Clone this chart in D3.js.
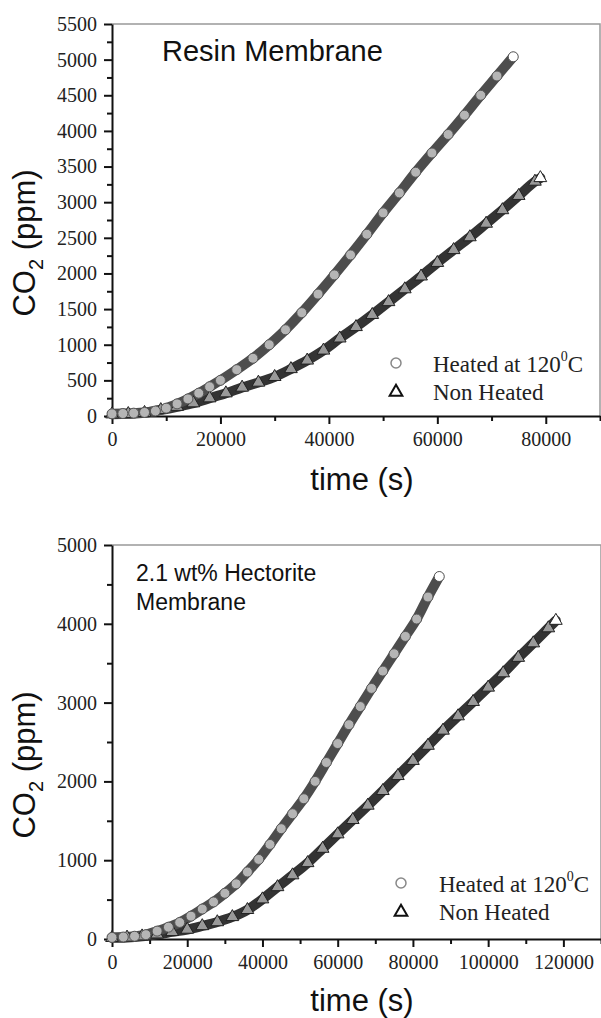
<!DOCTYPE html>
<html>
<head>
<meta charset="utf-8">
<script src="https://cdn.jsdelivr.net/npm/d3@7"></script>
<style>
  body { margin: 0; background: #fff; }
  .tick text { font-family: "Liberation Serif", "Times New Roman", serif; font-size: 20px; fill: #222; }
  .domain { stroke: #111; stroke-width: 2; }
  .tick line { stroke: #111; stroke-width: 2; }
</style>
</head>
<body>
<svg id="chart" width="601" height="1018"></svg>
<script>
// CO2 (ppm) vs time (s)
var resinHeated = [[0,30],[2000,35],[4000,40],[6000,50],[8000,70],[10000,110],[12000,170],[14000,240],
  [16000,320],[18000,410],[20000,500],[23000,650],[26000,810],[29000,1000],[32000,1210],[35000,1450],
  [38000,1710],[41000,1980],[44000,2260],[47000,2550],[50000,2850],[53000,3130],[56000,3420],
  [59000,3690],[62000,3950],[65000,4220],[68000,4500],[71000,4770],[74000,5040]];
var resinNonHeated = [[0,25],[3000,30],[6000,45],[9000,85],[12000,130],[15000,180],[18000,250],
  [21000,320],[24000,400],[27000,470],[30000,550],[33000,660],[36000,780],[39000,920],[42000,1090],
  [45000,1250],[48000,1420],[51000,1600],[54000,1780],[57000,1960],[60000,2150],[63000,2330],
  [66000,2510],[69000,2700],[72000,2890],[75000,3090],[78000,3290],[79000,3340]];
var hectHeated = [[0,20],[3000,25],[6000,35],[9000,55],[12000,100],[15000,150],[18000,210],[21000,290],
  [24000,380],[27000,470],[30000,580],[33000,700],[36000,850],[39000,1010],[42000,1200],[45000,1400],
  [48000,1590],[51000,1780],[54000,2000],[57000,2240],[60000,2480],[63000,2720],[66000,2950],
  [69000,3180],[72000,3400],[75000,3620],[78000,3840],[81000,4060],[84000,4340],[87000,4600]];
var hectNonHeated = [[0,15],[4000,20],[8000,35],[12000,60],[16000,90],[20000,120],[24000,165],
  [28000,215],[32000,280],[36000,370],[40000,505],[44000,660],[48000,810],[52000,965],[56000,1147],
  [60000,1330],[64000,1512],[68000,1694],[72000,1880],[76000,2070],[80000,2262],[84000,2454],
  [88000,2646],[92000,2828],[96000,3010],[100000,3192],[104000,3374],[108000,3570],[112000,3754],
  [116000,3945],[118000,4040]];

var resinXTicks = [0, 20000, 40000, 60000, 80000];
var resinYTicks = [0,500,1000,1500,2000,2500,3000,3500,4000,4500,5000,5500];
var hectXTicks = [0, 20000, 40000, 60000, 80000, 100000, 120000];
var hectYTicks = [0, 1000, 2000, 3000, 4000, 5000];
var titles = [["Resin Membrane"], ["2.1 wt% Hectorite", "Membrane"]];
var legendLabels = ["Heated at 120", "Non Heated"];

var svg = d3.select("#chart");

function drawPanel(p) {
  var x = d3.scaleLinear().domain(p.xDomain).range(p.xRange);
  var y = d3.scaleLinear().domain(p.yDomain).range(p.yRange);
  var g = svg.append("g");

  // thin frame on top and right
  g.append("path")
    .attr("d", "M" + p.xRange[0] + "," + p.yRange[1] + "H" + p.xRange[1] + "V" + p.yRange[0])
    .attr("fill", "none").attr("stroke", "#999").attr("stroke-width", 1.5);

  // minor ticks
  var xMinor = d3.range(p.xDomain[0], p.xDomain[1] + 1, p.xMinor).filter(function(v) { return p.xTicks.indexOf(v) < 0; });
  var yMinor = d3.range(p.yDomain[0], p.yDomain[1] + 1, p.yMinor).filter(function(v) { return p.yTicks.indexOf(v) < 0; });
  g.append("g").attr("transform", "translate(0," + p.yRange[0] + ")")
    .call(d3.axisBottom(x).tickValues(xMinor).tickSize(5).tickFormat(""))
    .select(".domain").remove();
  g.append("g").attr("transform", "translate(" + p.xRange[0] + ",0)")
    .call(d3.axisLeft(y).tickValues(yMinor).tickSize(5).tickFormat(""))
    .select(".domain").remove();

  // major axes
  var xAxis = g.append("g").attr("transform", "translate(0," + p.yRange[0] + ")")
    .call(d3.axisBottom(x).tickValues(p.xTicks).tickSize(8).tickSizeOuter(0).tickPadding(8).tickFormat(d3.format("d")));
  var yAxis = g.append("g").attr("transform", "translate(" + p.xRange[0] + ",0)")
    .call(d3.axisLeft(y).tickValues(p.yTicks).tickSize(8).tickSizeOuter(0).tickPadding(7).tickFormat(d3.format("d")));
  xAxis.selectAll("text").attr("fill", "#222");
  yAxis.selectAll("text").attr("fill", "#222");

  // series: dense band + markers
  var line = d3.line()
    .x(function(d) { return x(d[0]); })
    .y(function(d) { return y(d[1]); })
    .curve(d3.curveMonotoneX);

  [p.nonHeated, p.heated].forEach(function(series, si) {
    g.append("path")
      .attr("d", line(series))
      .attr("fill", "none")
      .attr("stroke", si === 0 ? "#333" : "#4d4d4d")
      .attr("stroke-width", 10)
      .attr("stroke-linecap", "round");
  });

  var tri = d3.symbol().type(d3.symbolTriangle).size(70);
  g.append("g").selectAll("path")
    .data(p.nonHeated)
    .enter().append("path")
    .attr("transform", function(d) { return "translate(" + x(d[0]) + "," + y(d[1]) + ")"; })
    .attr("d", tri)
    .attr("fill", function(d, i) { return i === p.nonHeated.length - 1 ? "#fff" : "#999"; })
    .attr("stroke", "#222")
    .attr("stroke-width", 1);

  g.append("g").selectAll("circle")
    .data(p.heated)
    .enter().append("circle")
    .attr("cx", function(d) { return x(d[0]); })
    .attr("cy", function(d) { return y(d[1]); })
    .attr("r", 5)
    .attr("fill", function(d, i) { return i === p.heated.length - 1 ? "#fff" : "#b5b5b5"; })
    .attr("stroke", "#555")
    .attr("stroke-width", 1);

  // panel title
  var t = g.append("text")
    .attr("x", p.titleX).attr("y", p.titleY)
    .style("font-family", "'Liberation Sans', Arial, sans-serif")
    .style("font-size", p.titleSize + "px")
    .attr("fill", "#111");
  p.title.forEach(function(s, i) {
    t.append("tspan").attr("x", p.titleX).attr("dy", i === 0 ? 0 : p.titleSize * 1.25).text(s);
  });

  // axis titles
  g.append("text")
    .attr("x", (p.xRange[0] + 600) / 2 + 6).attr("y", p.xTitleY)
    .attr("text-anchor", "middle")
    .style("font-family", "'Liberation Sans', Arial, sans-serif")
    .style("font-size", "31px")
    .attr("fill", "#111")
    .text("time (s)");

  var yl = g.append("text")
    .attr("transform", "translate(35," + p.yTitleY + ") rotate(-90)")
    .attr("text-anchor", "middle")
    .style("font-family", "'Liberation Sans', Arial, sans-serif")
    .style("font-size", "31px")
    .attr("fill", "#111");
  yl.append("tspan").text("CO");
  yl.append("tspan").attr("dy", 8).style("font-size", "20px").text("2");
  yl.append("tspan").attr("dy", -8).text(" (ppm)");

  // legend
  var lg = g.append("g");
  lg.append("circle")
    .attr("cx", p.legendX).attr("cy", p.legendY)
    .attr("r", 5).attr("fill", "#fff").attr("stroke", "#888").attr("stroke-width", 1.5);
  lg.append("path")
    .attr("transform", "translate(" + p.legendX + "," + (p.legendY + 29) + ")")
    .attr("d", d3.symbol().type(d3.symbolTriangle).size(70))
    .attr("fill", "#fff").attr("stroke", "#111").attr("stroke-width", 2);
  var l1 = lg.append("text")
    .attr("x", p.legendTextX).attr("y", p.legendY + 9)
    .style("font-family", "'Liberation Serif', 'Times New Roman', serif")
    .style("font-size", "23px").attr("fill", "#222");
  l1.append("tspan").text(legendLabels[0]);
  l1.append("tspan").attr("dy", -11).style("font-size", "14px").text("0");
  l1.append("tspan").attr("dy", 11).text("C");
  lg.append("text")
    .attr("x", p.legendTextX).attr("y", p.legendY + 37)
    .style("font-family", "'Liberation Serif', 'Times New Roman', serif")
    .style("font-size", "23px").attr("fill", "#222")
    .text(legendLabels[1]);
}

drawPanel({
  xDomain: [0, 90000], xRange: [112, 600], yDomain: [0, 5500], yRange: [416, 24],
  xTicks: resinXTicks, yTicks: resinYTicks, xMinor: 10000, yMinor: 250,
  heated: resinHeated, nonHeated: resinNonHeated,
  title: titles[0], titleX: 162, titleY: 61, titleSize: 29,
  xTitleY: 490, yTitleY: 243,
  legendX: 396, legendY: 363, legendTextX: 433
});

drawPanel({
  xDomain: [0, 130000], xRange: [112, 601], yDomain: [0, 5000], yRange: [939, 545],
  xTicks: hectXTicks, yTicks: hectYTicks, xMinor: 10000, yMinor: 500,
  heated: hectHeated, nonHeated: hectNonHeated,
  title: titles[1], titleX: 136, titleY: 581, titleSize: 23,
  xTitleY: 1011, yTitleY: 765,
  legendX: 401, legendY: 883, legendTextX: 439
});
</script>
</body>
</html>
